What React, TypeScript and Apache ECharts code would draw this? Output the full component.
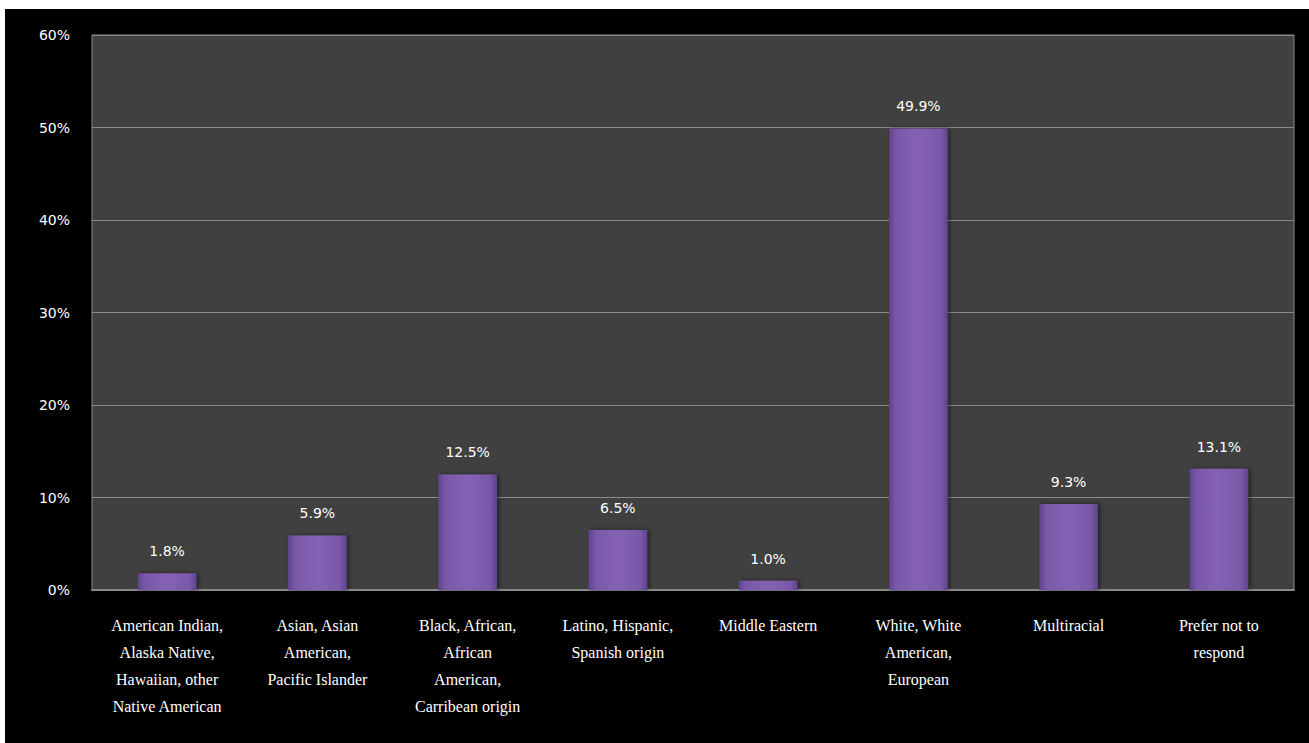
import React, { useEffect, useRef } from "react";
import * as echarts from "echarts";

const categories = [
  "American Indian,\nAlaska Native,\nHawaiian, other\nNative American",
  "Asian, Asian\nAmerican,\nPacific Islander",
  "Black, African,\nAfrican\nAmerican,\nCarribean origin",
  "Latino, Hispanic,\nSpanish origin",
  "Middle Eastern",
  "White, White\nAmerican,\nEuropean",
  "Multiracial",
  "Prefer not to\nrespond",
];
const values = [1.8, 5.9, 12.5, 6.5, 1.0, 49.9, 9.3, 13.1];
const yTicks = [0, 10, 20, 30, 40, 50, 60];

export default function App() {
  const ref = useRef<HTMLDivElement>(null);
  useEffect(() => {
    if (!ref.current) return;
    const chart = echarts.init(ref.current, null, { renderer: "svg" });
    chart.setOption({
      animation: false,
      backgroundColor: "#000000",
      grid: {
        left: 87,
        top: 26,
        right: 15,
        bottom: 153,
        show: true,
        backgroundColor: "#404040",
        borderColor: "#8a8a8a",
        borderWidth: 1,
      },
      xAxis: {
        type: "category",
        data: categories,
        axisLine: { lineStyle: { color: "#8a8a8a", width: 2 } },
        axisTick: { show: false },
        axisLabel: {
          interval: 0,
          color: "#ffffff",
          fontFamily: "Liberation Serif",
          fontSize: 16,
          lineHeight: 27,
          margin: 22,
        },
      },
      yAxis: {
        type: "value",
        min: yTicks[0],
        max: yTicks[yTicks.length - 1],
        interval: 10,
        axisLine: { show: false },
        axisTick: { show: false },
        splitLine: { lineStyle: { color: "#8a8a8a", width: 1 } },
        axisLabel: {
          color: "#ffffff",
          fontFamily: "DejaVu Sans",
          fontSize: 14,
          margin: 22,
          formatter: (v: number) => v + "%",
        },
      },
      series: [
        {
          type: "bar",
          data: values,
          barWidth: "39%",
          itemStyle: {
            color: new echarts.graphic.LinearGradient(0, 0, 1, 0, [
              { offset: 0, color: "#5f4390" },
              { offset: 0.12, color: "#7a58a8" },
              { offset: 0.5, color: "#8462b5" },
              { offset: 0.88, color: "#7a58a8" },
              { offset: 1, color: "#5f4390" },
            ]),
            shadowColor: "rgba(0,0,0,0.5)",
            shadowBlur: 4,
            shadowOffsetX: 2,
          },
          label: {
            show: true,
            position: "top",
            distance: 15,
            color: "#ffffff",
            fontFamily: "DejaVu Sans",
            fontSize: 14,
            formatter: (p: any) => p.value.toFixed(1) + "%",
          },
        },
      ],
    });
    return () => chart.dispose();
  }, []);
  return (
    <div style={{ position: "fixed", left: 0, top: 0, width: 1309, height: 743, background: "#ffffff" }}>
      <div ref={ref} style={{ position: "absolute", left: 5, top: 9, width: 1304, height: 734 }} />
    </div>
  );
}
